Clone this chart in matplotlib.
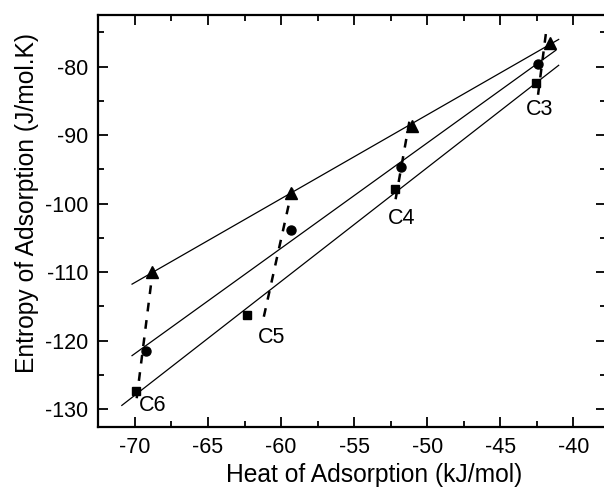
import numpy as np
import matplotlib
matplotlib.use("Agg")
import matplotlib.pyplot as plt
from matplotlib.ticker import MultipleLocator

plt.rcParams['font.family'] = ['Liberation Sans', 'DejaVu Sans']
plt.rcParams['axes.unicode_minus'] = False

# Data
tri_x = [-68.8, -59.3, -51.05, -41.6]
tri_y = [-109.9, -98.4, -88.7, -76.5]
circ_x = [-69.25, -59.3, -51.8, -42.4]
circ_y = [-121.5, -103.8, -94.6, -79.6]
sq_x = [-69.95, -62.3, -52.2, -42.55]
sq_y = [-127.3, -116.2, -97.9, -82.4]

# x-range of each linear fit line
tri_fit_range = [-70.2, -41.0]
circ_fit_range = [-70.2, -41.2]
sq_fit_range = [-70.9, -41.0]

# dashed guide lines joining same carbon number (endpoints)
guide_labels = ['C6', 'C5', 'C4', 'C3']
guide_x = [[-69.88, -68.75], [-61.18, -59.2], [-52.16, -51.16], [-42.41, -41.85]]
guide_y = [[-128.4, -109.2], [-116.5, -97.5], [-99.35, -87.3], [-84.1, -74.75]]
label_x = [-68.82, -60.65, -51.77, -42.33]
label_y = [-129.5, -119.6, -102.1, -86.3]

fig = plt.figure(figsize=(6.04, 4.87), dpi=100)
ax = fig.add_axes([98/604, 60/487, 508/604, 412/487])

for gx, gy in zip(guide_x, guide_y):
    ax.plot(gx, gy, color='black', lw=1.8, linestyle=(0, (3.5, 3.5)))

for xs, ys, rng in [(tri_x, tri_y, tri_fit_range), (circ_x, circ_y, circ_fit_range), (sq_x, sq_y, sq_fit_range)]:
    p = np.polyfit(xs, ys, 1)
    xx = np.array(rng)
    ax.plot(xx, np.polyval(p, xx), color='black', lw=0.9)

ax.plot(tri_x, tri_y, '^', color='black', ms=8, ls='none')
ax.plot(circ_x, circ_y, 'o', color='black', ms=6.5, ls='none')
ax.plot(sq_x, sq_y, 's', color='black', ms=5.5, ls='none')

for t, lx, ly in zip(guide_labels, label_x, label_y):
    ax.text(lx, ly, t, fontsize=15.5, ha='center', va='center')

ax.set_xlim(-72.53, -37.76)
ax.set_ylim(-132.6, -72.45)
ax.xaxis.set_major_locator(MultipleLocator(5))
ax.xaxis.set_minor_locator(MultipleLocator(2.5))
ax.yaxis.set_major_locator(MultipleLocator(10))
ax.yaxis.set_minor_locator(MultipleLocator(5))
ax.tick_params(which='both', direction='in', top=True, right=True, width=1.3)
ax.tick_params(which='major', length=7, labelsize=15.5, pad=7)
ax.tick_params(which='minor', length=4)
for s in ax.spines.values():
    s.set_linewidth(1.6)

ax.set_xlabel('Heat of Adsorption (kJ/mol)', fontsize=17.7)
ax.set_ylabel('Entropy of Adsorption (J/mol.K)', fontsize=17.7)
ax.xaxis.set_label_coords(0.544, -0.087)
ax.yaxis.set_label_coords(-0.116, 0.5425)

fig.savefig('out.png', dpi=100)
